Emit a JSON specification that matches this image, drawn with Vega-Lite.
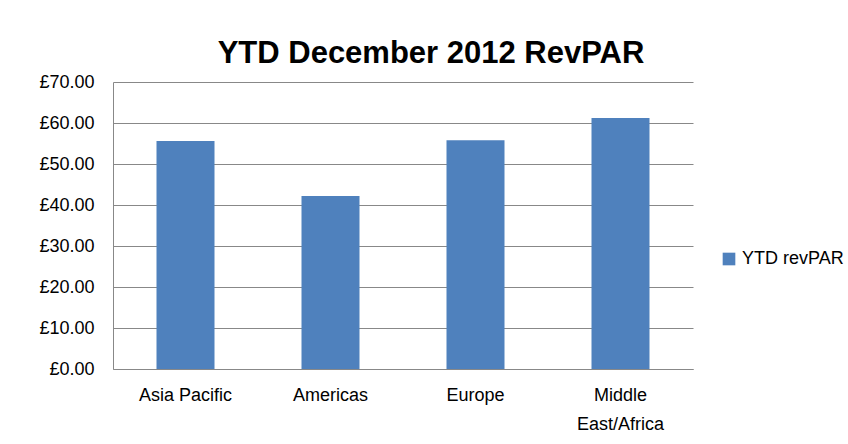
{
  "$schema": "https://vega.github.io/schema/vega-lite/v6.json",
  "width": 580,
  "height": 287,
  "autosize": {"type": "none"},
  "padding": {"left": 113, "top": 82, "right": 155, "bottom": 75},
  "background": "white",
  "title": {
    "text": "YTD December 2012 RevPAR",
    "font": "Liberation Sans",
    "fontSize": 31,
    "fontWeight": "bold",
    "color": "#000000",
    "anchor": "middle",
    "dx": 28,
    "offset": 3
  },
  "data": {
    "values": [
      {"region": "Asia Pacific", "series": "YTD revPAR", "value": 55.6},
      {"region": "Americas", "series": "YTD revPAR", "value": 42.2},
      {"region": "Europe", "series": "YTD revPAR", "value": 55.8},
      {"region": "Middle East/Africa", "series": "YTD revPAR", "value": 61.2}
    ]
  },
  "mark": {"type": "bar", "color": "#4f81bd"},
  "encoding": {
    "x": {
      "field": "region",
      "type": "nominal",
      "sort": null,
      "scale": {"paddingInner": 0.6, "paddingOuter": 0.3},
      "axis": {
        "title": null,
        "labelAngle": 0,
        "labelExpr": "datum.value == 'Middle East/Africa' ? ['Middle', 'East/Africa'] : datum.value",
        "labelFont": "Liberation Sans",
        "labelFontSize": 18,
        "labelColor": "#000000",
        "labelPadding": 17,
        "labelLineHeight": 29,
        "ticks": false,
        "domainColor": "#888888",
        "domainWidth": 1
      }
    },
    "y": {
      "field": "value",
      "type": "quantitative",
      "scale": {"domain": [0, 70], "nice": false},
      "axis": {
        "title": null,
        "values": [0, 10, 20, 30, 40, 50, 60, 70],
        "format": ".2f",
        "labelExpr": "'£' + datum.label",
        "labelFont": "Liberation Sans",
        "labelFontSize": 18,
        "labelColor": "#000000",
        "labelPadding": 19,
        "ticks": false,
        "domainColor": "#888888",
        "gridColor": "#888888",
        "gridWidth": 1
      }
    },
    "fill": {
      "field": "series",
      "type": "nominal",
      "scale": {"range": ["#4f81bd"]},
      "legend": {
        "title": null,
        "orient": "none",
        "legendX": 607,
        "legendY": 168,
        "symbolType": "square",
        "symbolSize": 160,
        "symbolStrokeWidth": 0,
        "labelFont": "Liberation Sans",
        "labelFontSize": 18,
        "labelColor": "#000000",
        "labelOffset": 4
      }
    }
  },
  "config": {
    "view": {"stroke": null}
  }
}
